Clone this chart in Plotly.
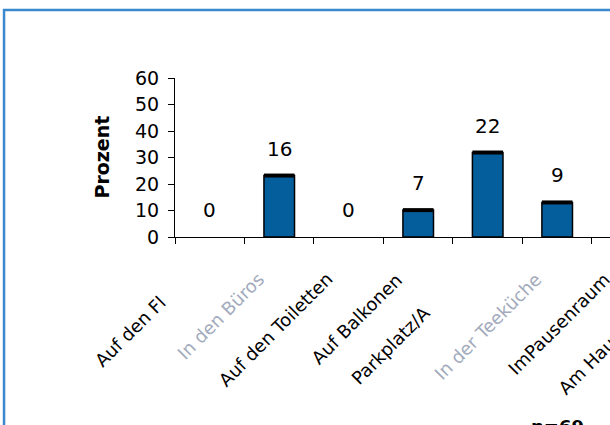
import plotly.graph_objects as go

# Where people take breaks / smoke (n = 69); counts per location
categories = ["Auf den Fl", "In den Büros", "Auf den Toiletten", "Auf Balkonen",
              "Parkplatz/A", "In der Teeküche", "ImPausenraum", "Am Haupteingang"]
counts = [0, 16, 0, 7, 22, 9]
n_total = 69
y_ticks = [0, 10, 20, 30, 40, 50, 60]

percent = [c / n_total * 100 for c in counts]
idx = list(range(len(counts)))

FONT = "DejaVu Sans"
BAR_FILL = "#045E9B"
BAR_WIDTH = 0.44
X_MIN, X_MAX = -0.5, 5.76

fig = go.Figure()

fig.add_trace(go.Bar(
    x=idx, y=percent, width=BAR_WIDTH,
    marker=dict(color=BAR_FILL,
                line=dict(color="black", width=[1.5 if p > 0 else 0 for p in percent])),
    hoverinfo="skip", showlegend=False,
))

# heavy rule along the top of each non-empty bar (line-ew spans 1.4 x size)
px_per_unit = (610 - 175) / (X_MAX - X_MIN)
fig.add_trace(go.Scatter(
    x=[i for i, p in zip(idx, percent) if p > 0],
    y=[p for p in percent if p > 0],
    mode="markers",
    marker=dict(symbol="line-ew", size=BAR_WIDTH * px_per_unit / 1.4,
                line=dict(color="black", width=4)),
    hoverinfo="skip", showlegend=False,
))

annotations = []

# count labels above the bars
for i, (c, p) in enumerate(zip(counts, percent)):
    annotations.append(dict(
        x=i, y=p, xref="x", yref="y", text=str(c), showarrow=False,
        xanchor="center", yanchor="middle", yshift=27,
        font=dict(family=FONT, size=20, color="black"),
    ))


def to_paper(v):
    return (v - X_MIN) / (X_MAX - X_MIN)


faded = {"In den Büros", "In der Teeküche"}
clipped = {"Auf den Fl": (-122, -137), "Parkplatz/A": (-143.5, -155)}
for i, name in enumerate(categories):
    color = "#a3abbd" if name in faded else "black"
    if name in clipped:
        dx, dy = clipped[name]
        annotations.append(dict(
            x=to_paper(i), y=0, xref="paper", yref="paper", text=name,
            showarrow=False, textangle=-45, xanchor="left", yanchor="bottom",
            xshift=dx, yshift=dy, font=dict(family=FONT, size=18, color=color),
        ))
    else:
        annotations.append(dict(
            x=to_paper(i), y=0, xref="paper", yref="paper", text=name,
            showarrow=False, textangle=-45, xanchor="right", yanchor="top",
            xshift=-9, yshift=-29, font=dict(family=FONT, size=18, color=color),
        ))

# axis title
annotations.append(dict(
    x=-0.17, y=0.5, xref="paper", yref="paper", text="<b>Prozent</b>",
    showarrow=False, textangle=-90, xanchor="center", yanchor="middle",
    font=dict(family=FONT, size=19, color="black"),
))

# sample size
annotations.append(dict(
    x=to_paper(5.0), y=0, xref="paper", yref="paper", text=f"<b>n={n_total}</b>",
    showarrow=False, xanchor="center", yanchor="top", yshift=-177,
    font=dict(family=FONT, size=18, color="black"),
))

fig.update_layout(
    width=610, height=425,
    margin=dict(l=175, r=0, t=78, b=188),
    paper_bgcolor="white", plot_bgcolor="white",
    annotations=annotations,
    shapes=[dict(
        type="rect", xref="paper", yref="paper",
        x0=-0.393, x1=1.2, y0=-1.4, y1=1.428,
        line=dict(color="#3a88cf", width=2.5), fillcolor="rgba(0,0,0,0)",
        layer="below",
    )],
    showlegend=False,
)

fig.update_xaxes(
    range=[X_MIN, X_MAX],
    tickvals=[i - 0.5 for i in range(len(categories) + 1)],
    ticktext=[""] * (len(categories) + 1),
    ticks="outside", ticklen=6, tickcolor="black", tickwidth=1,
    showline=True, linecolor="black", linewidth=1,
    showgrid=False, zeroline=False, fixedrange=True,
)
fig.update_yaxes(
    range=[0, 60], tickvals=y_ticks,
    ticks="outside", ticklen=6, tickcolor="black", tickwidth=1,
    ticklabelstandoff=5,
    tickfont=dict(family=FONT, size=19, color="black"),
    showline=True, linecolor="black", linewidth=1,
    showgrid=False, zeroline=False, fixedrange=True,
)

fig.write_html("out.html")
